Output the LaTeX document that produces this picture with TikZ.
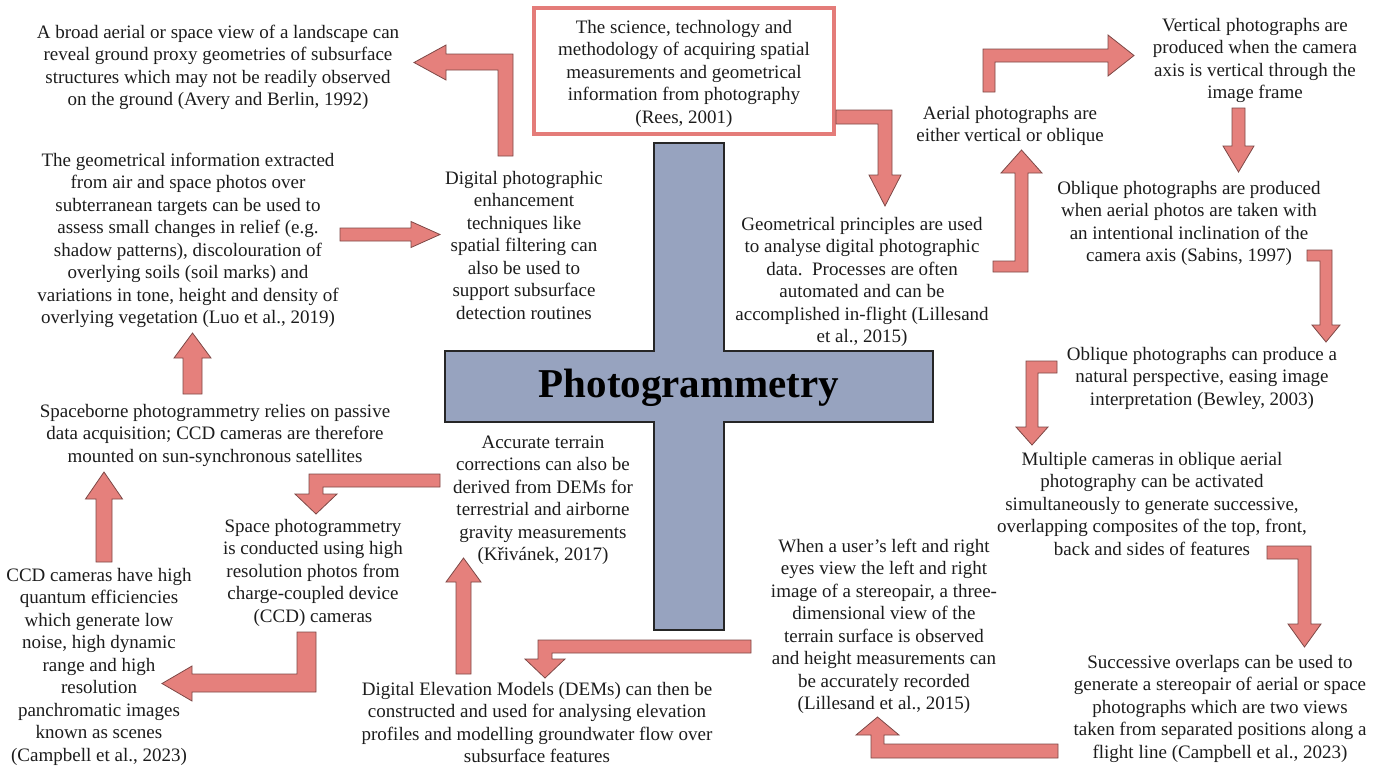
\documentclass[tikz,border=0pt]{standalone}
\usepackage{fontspec}
\setmainfont{Liberation Serif}
\definecolor{arrowfill}{RGB}{229,128,124}
\definecolor{arrowline}{RGB}{125,72,70}
\definecolor{boxline}{RGB}{228,124,121}
\definecolor{crossfill}{RGB}{151,163,191}
\definecolor{inktext}{RGB}{28,28,28}
\tikzset{
  notetext/.style={align=center, anchor=base, inner sep=0pt, text=inktext,
    font=\fontsize{19}{22.5}\selectfont},
  blockarrow/.style={fill=arrowfill, draw=arrowline, line width=0.8pt, line join=miter},
}
% name, centre x, first baseline, number of lines, text
\newcommand{\note}[5]{\node[notetext] (#1) at (#2,{#3+(#4-1)*22.5}) {#5};}
% straight block arrows: centre, tail, head base, tip, half shaft, half head
\newcommand{\vblock}[6]{\filldraw[blockarrow] (#1-#5,#2) -- (#1-#5,#3) -- (#1-#6,#3) -- (#1,#4) -- (#1+#6,#3) -- (#1+#5,#3) -- (#1+#5,#2) -- cycle;}
\newcommand{\hblock}[6]{\filldraw[blockarrow] (#2,#1-#5) -- (#3,#1-#5) -- (#3,#1-#6) -- (#4,#1) -- (#3,#1+#6) -- (#3,#1+#5) -- (#2,#1+#5) -- cycle;}
\begin{document}
\begin{tikzpicture}[x=1pt,y=-1pt]
        \useasboundingbox (0,0) rectangle (1386,766);

        % the cross
        \filldraw[fill=crossfill, draw=black!85, line width=1.2pt]
          (654,143) -- (724,143) -- (724,351) -- (933,351) -- (933,422) -- (724,422)
          -- (724,630) -- (654,630) -- (654,422) -- (445,422) -- (445,351) -- (654,351) -- cycle;
        \node[inner sep=0pt, text=black, font=\fontsize{41}{45}\selectfont\bfseries] (title) at (689,388) {Photogrammetry};

        % definition box
        \draw[boxline, line width=4pt] (534,8) rectangle (834,134);
        \note{defn}{684}{33}{5}{The science, technology and\\methodology of acquiring spatial\\measurements and geometrical\\information from photography\\(Rees, 2001)}

        % left side
        \note{ground}{218}{38}{4}{A broad aerial or space view of a landscape can\\reveal ground proxy geometries of subsurface\\structures which may not be readily observed\\on the ground (Avery and Berlin, 1992)}
        \note{geominfo}{188}{166}{8}{The geometrical information extracted\\from air and space photos over\\subterranean targets can be used to\\assess small changes in relief (e.g.\\shadow patterns), discolouration of\\overlying soils (soil marks) and\\variations in tone, height and density of\\overlying vegetation (Luo et al., 2019)}
        \note{enhance}{524}{184}{7}{Digital photographic\\enhancement\\techniques like\\spatial filtering can\\also be used to\\support subsurface\\detection routines}
        \note{spaceborne}{215}{417}{3}{Spaceborne photogrammetry relies on passive\\data acquisition; CCD cameras are therefore\\mounted on sun-synchronous satellites}
        \note{spacephoto}{313}{532}{5}{Space photogrammetry\\is conducted using high\\resolution photos from\\charge-coupled device\\(CCD) cameras}
        \note{ccd}{99}{581}{9}{CCD cameras have high\\quantum efficiencies\\which generate low\\noise, high dynamic\\range and high\\resolution\\panchromatic images\\known as scenes\\(Campbell et al., 2023)}
        \note{terrain}{543}{448}{6}{Accurate terrain\\corrections can also be\\derived from DEMs for\\terrestrial and airborne\\gravity measurements\\(K\v{r}iv\'anek, 2017)}
        \note{dem}{537}{695}{4}{Digital Elevation Models (DEMs) can then be\\constructed and used for analysing elevation\\profiles and modelling groundwater flow over\\subsurface features}

        % right side
        \note{principles}{862}{230}{6}{Geometrical principles are used\\to analyse digital photographic\\data.\ \ Processes are often\\automated and can be\\accomplished in-flight (Lillesand\\et al., 2015)}
        \note{aerial}{1010}{119}{2}{Aerial photographs are\\either vertical or oblique}
        \note{vertical}{1255}{31}{4}{Vertical photographs are\\produced when the camera\\axis is vertical through the\\image frame}
        \note{oblique}{1189}{194}{4}{Oblique photographs are produced\\when aerial photos are taken with\\an intentional inclination of the\\camera axis (Sabins, 1997)}
        \note{perspective}{1202}{360}{3}{Oblique photographs can produce a\\natural perspective, easing image\\interpretation (Bewley, 2003)}
        \note{multiple}{1152}{465}{5}{Multiple cameras in oblique aerial\\photography can be activated\\simultaneously to generate successive,\\overlapping composites of the top, front,\\back and sides of features}
        \note{overlaps}{1220}{668}{5}{Successive overlaps can be used to\\generate a stereopair of aerial or space\\photographs which are two views\\taken from separated positions along a\\flight line (Campbell et al., 2023)}
        \note{stereo}{884}{552}{8}{When a user’s left and right\\eyes view the left and right\\image of a stereopair, a three-\\dimensional view of the\\terrain surface is observed\\and height measurements can\\be accurately recorded\\(Lillesand et al., 2015)}

        % straight arrows
        \hblock{234.5}{340}{411}{440}{6.5}{13}
        \vblock{192.5}{394}{358}{333}{9.5}{18.5}
        \vblock{104}{562}{499}{472}{8}{18.5}
        \vblock{463.5}{674}{582}{558}{7.5}{17.5}
        \vblock{1238.5}{108}{146}{172}{6.5}{15.5}

        % bent arrows
        \filldraw[blockarrow] (513,156) -- (513,54) -- (446,54) -- (446,45) -- (414,62.5) -- (446,80) -- (446,70) -- (498,70) -- (498,156) -- cycle;
        \filldraw[blockarrow] (297,632) -- (316,632) -- (316,692) -- (192,692) -- (192,701) -- (162,683.5) -- (192,666) -- (192,674) -- (297,674) -- cycle;
        \filldraw[blockarrow] (440,474) -- (309,474) -- (309,494) -- (295,494) -- (316,514) -- (337,494) -- (323,494) -- (323,487) -- (440,487) -- cycle;
        \filldraw[blockarrow] (751,640) -- (538,640) -- (538,659) -- (525,659) -- (545,678) -- (565,659) -- (552,659) -- (552,653) -- (751,653) -- cycle;
        \filldraw[blockarrow] (1058,744) -- (884,744) -- (884,735) -- (899,735) -- (877.5,717) -- (856,735) -- (871,735) -- (871,758) -- (1058,758) -- cycle;
        \filldraw[blockarrow] (1267,546) -- (1311,546) -- (1311,624) -- (1321,624) -- (1304.5,647) -- (1288,624) -- (1298,624) -- (1298,559) -- (1267,559) -- cycle;
        \filldraw[blockarrow] (1057,361) -- (1026,361) -- (1026,427) -- (1016,427) -- (1032,445) -- (1048,427) -- (1038,427) -- (1038,373) -- (1057,373) -- cycle;
        \filldraw[blockarrow] (1307,250) -- (1332,250) -- (1332,325) -- (1340,325) -- (1326,342) -- (1312,325) -- (1320,325) -- (1320,261) -- (1307,261) -- cycle;
        \filldraw[blockarrow] (983,92) -- (983,49) -- (1108,49) -- (1108,35) -- (1134,55.5) -- (1108,76) -- (1108,62) -- (995,62) -- (995,92) -- cycle;
        \filldraw[blockarrow] (993,272) -- (1028,272) -- (1028,173) -- (1042,173) -- (1021.5,150) -- (1001,173) -- (1015,173) -- (1015,261) -- (993,261) -- cycle;
        \filldraw[blockarrow] (836,110) -- (892,110) -- (892,175) -- (901,175) -- (885,206) -- (869,175) -- (878,175) -- (878,124) -- (836,124) -- cycle;
    \end{tikzpicture}
\end{document}
